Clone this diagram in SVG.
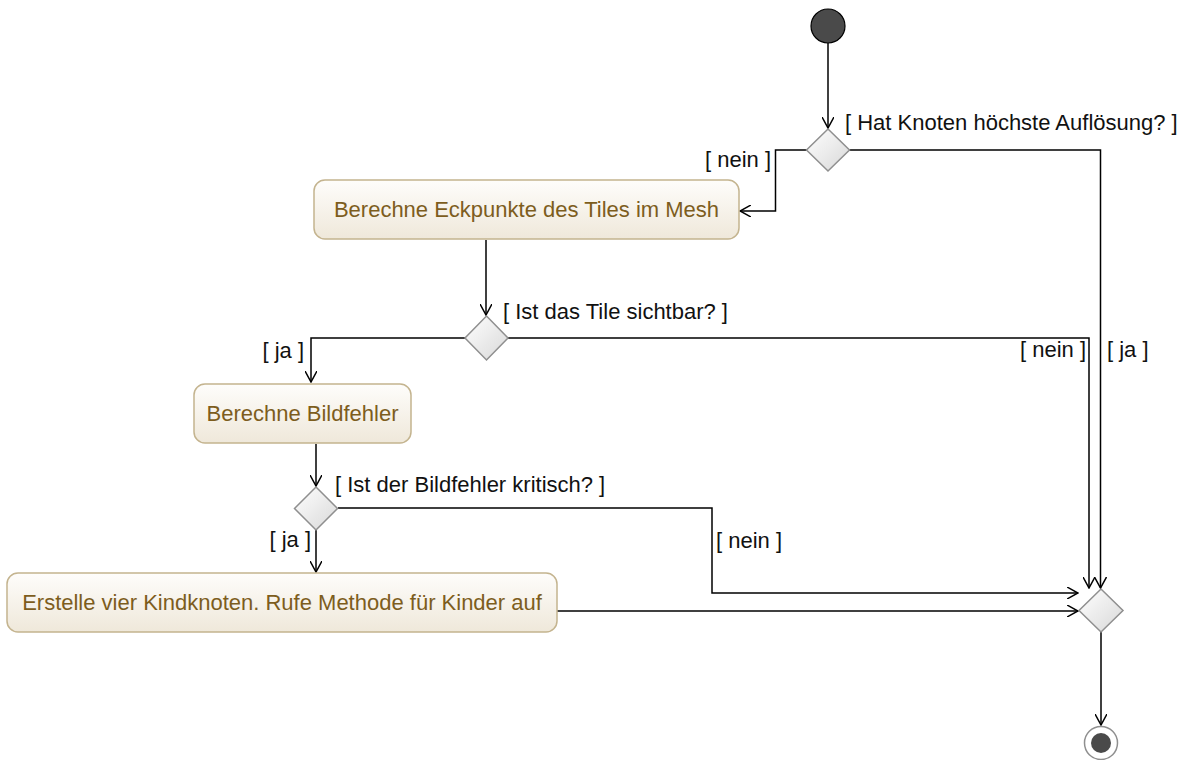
<svg xmlns="http://www.w3.org/2000/svg" width="1188" height="760" viewBox="0 0 1188 760">
  <defs>
    <linearGradient id="actFill" x1="0" y1="0" x2="0" y2="1">
      <stop offset="0" stop-color="#fefdfb"/>
      <stop offset="1" stop-color="#efe8da"/>
    </linearGradient>
    <linearGradient id="decFill" x1="0" y1="0" x2="1" y2="1">
      <stop offset="0" stop-color="#ffffff"/>
      <stop offset="1" stop-color="#d8d8d8"/>
    </linearGradient>
    <marker id="arrow" viewBox="0 0 12 12" refX="11" refY="6" markerWidth="12" markerHeight="12" markerUnits="userSpaceOnUse" orient="auto">
      <path d="M0,0 L11,6 L0,12" fill="none" stroke="#000" stroke-width="1.5"/>
    </marker>
  </defs>
  <style>
    .act { fill: url(#actFill); stroke: #c4b48f; stroke-width: 1.5; }
    .act-label { font-family: "Liberation Sans", Arial, sans-serif; font-size: 22px; fill: #7d5d1d; text-anchor: middle; }
    .dec { fill: url(#decFill); stroke: #8f8f8f; stroke-width: 1.5; }
    .guard { font-family: "Liberation Sans", Arial, sans-serif; font-size: 22px; fill: #111; }
    .flow { fill: none; stroke: #000; stroke-width: 1.5; marker-end: url(#arrow); }
  </style>

  <!-- control flows -->
  <g id="connectors">
    <path class="flow" d="M828,43 V128"/>
    <path class="flow" d="M807,150 H775.5 V211 H740"/>
    <path class="flow" d="M849,150 H1100.5 V588"/>
    <path class="flow" d="M486,240 V315"/>
    <path class="flow" d="M465,338 H311 V382"/>
    <path class="flow" d="M508,338 H1089 V588"/>
    <path class="flow" d="M316,444 V486"/>
    <path class="flow" d="M316,530 V572"/>
    <path class="flow" d="M338,508 H712 V593 H1078"/>
    <path class="flow" d="M557,611 H1078"/>
    <path class="flow" d="M1101,632 V725"/>
  </g>

  <!-- guard labels -->
  <g id="guards">
    <text class="guard" x="845" y="130">[ Hat Knoten höchste Auflösung? ]</text>
    <text class="guard" x="771" y="167" text-anchor="end">[ nein ]</text>
    <text class="guard" x="503" y="319">[ Ist das Tile sichtbar? ]</text>
    <text class="guard" x="304" y="358" text-anchor="end">[ ja ]</text>
    <text class="guard" x="1086" y="357" text-anchor="end">[ nein ]</text>
    <text class="guard" x="1107" y="357">[ ja ]</text>
    <text class="guard" x="335" y="492">[ Ist der Bildfehler kritisch? ]</text>
    <text class="guard" x="311" y="547" text-anchor="end">[ ja ]</text>
    <text class="guard" x="716" y="548">[ nein ]</text>
  </g>

  <g id="start">
    <circle cx="828" cy="26" r="17" fill="#4a4a4a" stroke="#000" stroke-width="1.2"/>
  </g>

  <g id="decision-resolution">
    <polygon class="dec" points="828,129 849.5,150 828,171 806.5,150"/>
  </g>

  <g id="act-corners">
    <rect class="act" x="314" y="180" width="425" height="59" rx="11"/>
    <text class="act-label" x="526.5" y="217">Berechne Eckpunkte des Tiles im Mesh</text>
  </g>

  <g id="decision-visible">
    <polygon class="dec" points="486.5,316 508,338 486.5,360 465,338"/>
  </g>

  <g id="act-error">
    <rect class="act" x="194" y="384" width="217" height="59" rx="11"/>
    <text class="act-label" x="302.5" y="421">Berechne Bildfehler</text>
  </g>

  <g id="decision-critical">
    <polygon class="dec" points="316,487 337.5,508.5 316,530 294.5,508.5"/>
  </g>

  <g id="act-children">
    <rect class="act" x="7" y="573" width="550" height="59" rx="11"/>
    <text class="act-label" x="282" y="610">Erstelle vier Kindknoten. Rufe Methode für Kinder auf</text>
  </g>

  <g id="merge">
    <polygon class="dec" points="1101,589 1123,610.5 1101,632 1079,610.5"/>
  </g>

  <g id="end">
    <circle cx="1101" cy="743" r="16.5" fill="#fff" stroke="#8f8f8f" stroke-width="1.5"/>
    <circle cx="1101" cy="743" r="10" fill="#4a4a4a"/>
  </g>
</svg>
